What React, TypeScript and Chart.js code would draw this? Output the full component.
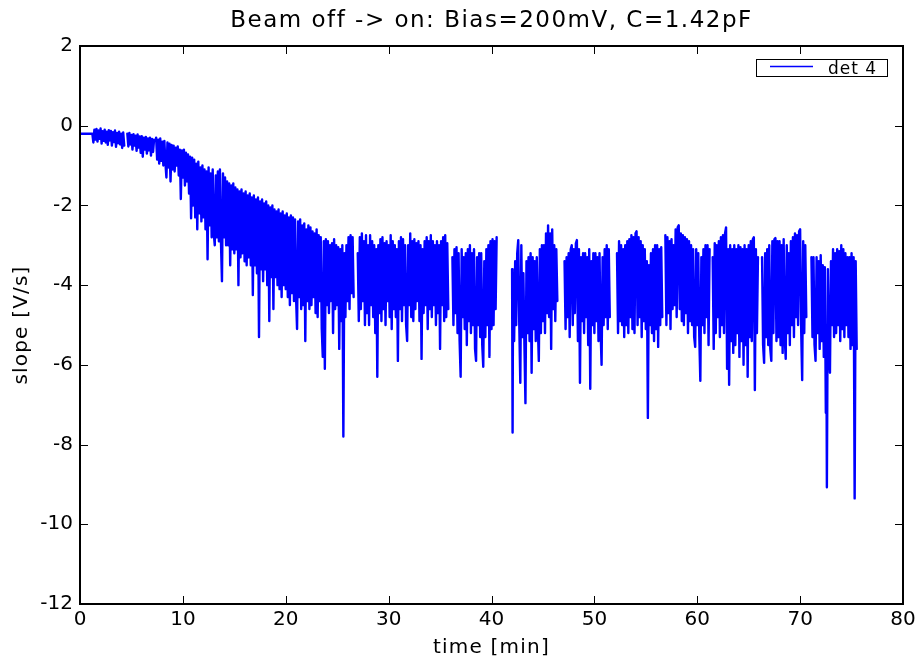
import { useEffect, useRef } from "react";
import { Chart, registerables } from "chart.js";

Chart.register(...registerables);

const chartTitle = "Beam off -> on: Bias=200mV, C=1.42pF";
const xLabel = "time [min]";
const yLabel = "slope [V/s]";
const seriesName = "det 4";
const xTicks = [0, 10, 20, 30, 40, 50, 60, 70, 80];
const yTicks = [-12, -10, -8, -6, -4, -2, 0, 2];

// acquisition runs: [time (min), slope (V/s)]
const run01 = [[0, -0.2], [1.2, -0.2], [1.3, -0.42], [1.4, -0.1], [1.5, -0.35], [1.6, -0.08], [1.7, -0.4], [1.8, -0.12], [1.9, -0.33], [2.0, -0.07], [2.1, -0.45], [2.2, -0.14], [2.3, -0.38], [2.4, -0.1], [2.5, -0.42], [2.6, -0.15], [2.7, -0.48], [2.8, -0.11], [2.9, -0.37], [3.0, -0.13], [3.1, -0.5], [3.2, -0.16], [3.3, -0.41], [3.4, -0.12], [3.5, -0.53], [3.6, -0.18], [3.7, -0.44], [3.8, -0.15], [3.9, -0.47], [4.0, -0.2], [4.1, -0.56], [4.2, -0.17], [4.3, -0.5]];
const run02 = [[4.6, -0.2], [4.7, -0.52], [4.8, -0.18], [4.9, -0.47], [5.0, -0.23], [5.1, -0.6], [5.2, -0.21], [5.3, -0.5], [5.4, -0.25], [5.5, -0.63], [5.6, -0.22], [5.7, -0.55], [5.8, -0.27], [5.9, -0.68], [6.0, -0.26], [6.1, -0.78], [6.2, -0.3], [6.3, -0.6], [6.4, -0.28], [6.5, -0.7], [6.6, -0.32], [6.7, -0.62], [6.8, -0.3], [6.9, -0.75], [7.0, -0.33], [7.1, -0.66], [7.2, -0.35]];
const run03 = [[7.4, -0.3], [7.5, -0.85], [7.6, -0.35], [7.7, -0.95], [7.8, -0.32], [7.9, -0.88], [8.0, -0.4], [8.1, -1.0], [8.2, -0.38], [8.3, -0.92], [8.4, -1.3], [8.5, -0.42], [8.6, -1.05], [8.7, -0.45], [8.8, -1.4], [8.9, -0.48], [9.0, -1.1], [9.1, -0.5], [9.2, -1.15], [9.3, -0.55], [9.4, -1.0], [9.5, -0.52], [9.6, -1.25], [9.7, -0.6], [9.8, -1.84], [9.9, -0.62], [10.0, -1.3], [10.1, -0.6], [10.2, -1.5], [10.3, -0.68], [10.4, -1.4], [10.5, -0.72], [10.6, -1.7], [10.7, -0.78], [10.8, -2.32], [10.9, -0.8], [11.0, -2.0], [11.1, -0.85], [11.2, -2.3], [11.3, -0.95], [11.4, -2.6], [11.5, -0.9], [11.6, -2.2], [11.7, -1.05], [11.8, -2.4], [11.9, -1.0], [12.0, -2.3], [12.1, -1.1], [12.2, -2.6], [12.3, -1.15], [12.4, -3.35], [12.5, -1.05], [12.6, -2.5], [12.7, -1.2], [12.8, -2.8], [12.9, -1.1], [13.0, -2.7], [13.1, -3.0], [13.2, -1.25], [13.3, -2.8], [13.4, -1.15], [13.5, -2.9], [13.6, -1.1], [13.7, -2.9], [13.8, -3.9], [13.9, -1.2], [14.0, -2.8], [14.1, -1.3], [14.2, -3.0], [14.3, -1.4], [14.4, -3.0], [14.5, -1.45], [14.6, -3.5], [14.7, -1.5], [14.8, -3.1], [14.9, -1.45], [15.0, -3.2], [15.1, -1.55], [15.2, -3.1], [15.3, -1.6], [15.4, -4.0], [15.5, -1.65], [15.6, -3.3], [15.7, -1.6], [15.8, -3.2], [15.9, -1.7], [16.0, -3.4], [16.1, -1.65], [16.2, -3.5], [16.3, -1.75], [16.4, -3.3], [16.5, -1.7], [16.6, -3.5], [16.7, -1.8], [16.8, -4.25], [16.9, -1.75], [17.0, -3.5], [17.1, -1.85], [17.2, -3.7], [17.3, -1.8], [17.4, -5.3], [17.5, -1.9], [17.6, -3.6], [17.7, -1.85], [17.8, -3.9], [17.9, -1.95], [18.0, -3.6], [18.1, -1.9], [18.2, -4.0], [18.3, -2.0], [18.4, -4.9], [18.5, -2.05], [18.6, -3.8], [18.7, -2.0], [18.8, -4.6], [18.9, -2.1], [19.0, -3.8], [19.1, -2.15], [19.2, -4.0], [19.3, -2.1], [19.4, -4.1], [19.5, -2.2], [19.6, -4.3], [19.7, -2.15], [19.8, -4.0], [19.9, -2.25], [20.0, -4.1], [20.1, -2.2], [20.2, -4.3], [20.3, -2.3], [20.4, -4.5], [20.5, -2.25], [20.6, -4.2], [20.7, -2.3], [20.8, -4.4], [20.9, -2.35], [21.0, -4.3], [21.1, -5.1], [21.2, -2.4], [21.3, -4.3], [21.4, -2.35], [21.5, -4.6], [21.6, -2.5], [21.7, -4.5], [21.8, -2.45], [21.9, -5.4], [22.0, -2.6], [22.1, -4.4], [22.2, -2.5], [22.3, -4.6], [22.4, -2.55], [22.5, -4.5], [22.6, -2.65], [22.7, -4.3], [22.8, -2.7], [22.9, -4.7], [23.0, -2.6], [23.1, -4.8], [23.2, -2.75], [23.3, -4.4], [23.4, -2.8], [23.5, -5.1], [23.6, -5.8], [23.7, -2.9], [23.8, -6.1], [23.9, -2.85], [24.0, -4.5], [24.1, -2.9], [24.2, -4.7], [24.3, -3.0], [24.4, -4.4], [24.5, -2.95], [24.6, -5.2], [24.7, -2.85], [24.8, -4.6], [24.9, -3.0], [25.0, -4.5], [25.1, -3.05], [25.2, -5.6], [25.3, -3.1], [25.4, -4.9], [25.5, -3.0], [25.6, -7.8], [25.7, -3.2], [25.8, -4.8], [25.9, -3.0], [26.0, -4.4], [26.1, -2.8], [26.2, -4.6], [26.3, -2.75], [26.4, -4.2], [26.5, -2.8], [26.6, -4.3]];
const run04 = [[27.0, -3.2], [27.1, -4.9], [27.2, -2.8], [27.3, -4.6], [27.4, -2.7], [27.5, -4.4], [27.6, -2.9], [27.7, -5.0], [27.8, -2.75], [27.9, -4.7], [28.0, -3.0], [28.1, -5.0], [28.2, -2.75], [28.3, -4.5], [28.4, -2.9], [28.5, -4.8], [28.6, -3.0], [28.7, -5.2], [28.8, -3.1], [28.9, -6.3], [29.0, -3.0], [29.1, -4.7], [29.2, -2.85], [29.3, -4.9], [29.4, -2.8], [29.5, -4.6], [29.6, -2.95], [29.7, -5.0], [29.8, -2.9], [29.9, -4.4], [30.0, -3.0], [30.1, -4.8], [30.2, -2.75], [30.3, -5.1], [30.4, -2.9], [30.5, -4.6], [30.6, -3.0], [30.7, -4.8], [30.8, -3.1], [30.9, -5.9], [31.0, -2.9], [31.1, -4.6], [31.2, -2.8], [31.3, -4.9], [31.4, -2.85], [31.5, -4.5], [31.6, -3.0], [31.7, -5.0], [31.8, -5.4], [31.9, -3.0], [32.0, -4.5], [32.1, -2.7], [32.2, -4.8], [32.3, -2.9], [32.4, -4.9], [32.5, -2.85], [32.6, -4.6], [32.7, -2.95], [32.8, -4.4], [32.9, -2.9], [33.0, -4.9], [33.1, -3.0], [33.2, -5.85], [33.3, -3.1], [33.4, -4.7], [33.5, -2.9], [33.6, -4.5], [33.7, -2.8], [33.8, -5.1], [33.9, -2.9], [34.0, -4.6], [34.1, -2.75], [34.2, -4.8], [34.3, -2.9], [34.4, -4.5], [34.5, -3.0], [34.6, -5.0], [34.7, -2.9], [34.8, -4.7], [34.9, -3.0], [35.0, -5.6], [35.1, -2.9], [35.2, -4.5], [35.3, -2.8], [35.4, -4.9], [35.5, -2.75], [35.6, -4.8], [35.7, -2.95], [35.8, -4.6]];
const run05 = [[36.2, -3.3], [36.3, -5.0], [36.4, -3.1], [36.5, -4.7], [36.6, -3.05], [36.7, -5.2], [36.8, -3.2], [36.9, -5.4], [37.0, -6.3], [37.1, -3.1], [37.2, -4.8], [37.3, -3.3], [37.4, -5.1], [37.5, -3.2], [37.6, -5.5], [37.7, -3.1], [37.8, -4.9], [37.9, -3.0], [38.0, -5.2], [38.1, -3.2], [38.2, -5.0], [38.3, -3.1], [38.4, -5.6], [38.5, -5.9], [38.6, -3.3], [38.7, -5.0], [38.8, -3.2], [38.9, -5.3], [39.0, -3.2], [39.1, -5.5], [39.2, -6.05], [39.3, -3.4], [39.4, -5.3], [39.5, -3.1], [39.6, -5.0], [39.7, -3.0], [39.8, -5.8], [39.9, -2.9], [40.0, -5.1], [40.1, -2.85], [40.2, -5.0], [40.3, -2.9], [40.4, -4.6], [40.5, -2.8]];
const run06 = [[42.0, -3.6], [42.05, -7.7], [42.1, -3.7], [42.2, -5.4], [42.3, -3.4], [42.4, -5.0], [42.5, -3.2], [42.6, -2.87], [42.7, -5.0], [42.8, -6.45], [42.9, -3.0], [43.0, -5.3], [43.1, -3.7], [43.2, -5.5], [43.3, -6.96], [43.4, -3.4], [43.5, -5.2], [43.6, -3.3], [43.7, -5.4], [43.8, -3.2], [43.9, -6.2], [44.0, -3.3], [44.1, -5.1], [44.2, -3.4], [44.3, -5.4], [44.4, -3.3], [44.5, -5.0], [44.6, -5.9], [44.7, -3.1], [44.8, -5.2], [44.9, -3.0], [45.0, -4.9], [45.1, -3.0], [45.2, -5.2], [45.3, -2.7], [45.4, -4.7], [45.5, -2.5], [45.6, -4.8], [45.7, -2.7], [45.8, -5.6], [45.9, -2.6], [46.0, -4.6], [46.1, -3.0], [46.2, -4.9], [46.3, -3.1], [46.4, -4.4]];
const run07 = [[47.1, -3.4], [47.2, -5.1], [47.3, -3.3], [47.4, -4.8], [47.5, -3.2], [47.6, -5.3], [47.7, -3.1], [47.8, -3.0], [47.9, -5.0], [48.0, -3.1], [48.1, -4.7], [48.2, -2.95], [48.3, -2.87], [48.4, -5.4], [48.5, -3.1], [48.6, -6.45], [48.7, -3.3], [48.8, -4.9], [48.9, -3.2], [49.0, -5.2], [49.1, -3.2], [49.2, -4.8], [49.3, -3.3], [49.4, -5.5], [49.5, -3.1], [49.6, -6.6], [49.7, -3.4], [49.8, -5.0], [49.9, -3.2], [50.0, -5.2], [50.1, -3.2], [50.2, -4.9], [50.3, -3.3], [50.4, -5.4], [50.5, -3.2], [50.6, -5.1], [50.7, -6.0], [50.8, -3.3], [50.9, -5.0], [51.0, -3.1], [51.1, -4.8], [51.2, -3.0], [51.3, -5.1], [51.4, -3.1], [51.5, -4.8]];
const run08 = [[52.2, -3.2], [52.3, -5.2], [52.4, -2.9], [52.5, -4.9], [52.6, -3.0], [52.7, -5.0], [52.8, -3.1], [52.9, -5.3], [53.0, -3.0], [53.1, -5.0], [53.2, -2.9], [53.3, -5.2], [53.4, -2.85], [53.5, -4.8], [53.6, -2.75], [53.7, -5.1], [53.8, -2.8], [53.9, -5.2], [54.0, -2.7], [54.1, -2.65], [54.2, -5.0], [54.3, -2.8], [54.4, -4.8], [54.5, -2.9], [54.6, -5.3], [54.7, -3.0], [54.8, -4.9], [54.9, -3.1], [55.0, -5.1], [55.1, -3.4], [55.2, -7.33], [55.3, -3.5], [55.4, -5.0], [55.5, -3.2], [55.6, -5.2], [55.7, -3.1], [55.8, -5.4], [55.9, -3.0], [56.0, -5.1], [56.1, -3.0], [56.2, -5.55], [56.3, -3.1], [56.4, -5.0], [56.5, -3.05], [56.6, -4.8]];
const run09 = [[56.9, -2.75], [57.0, -5.0], [57.1, -2.8], [57.2, -4.7], [57.3, -2.9], [57.4, -5.1], [57.5, -2.85], [57.6, -4.6], [57.7, -3.0], [57.8, -4.5], [57.9, -2.6], [58.0, -4.8], [58.1, -2.55], [58.2, -2.5], [58.3, -4.6], [58.4, -2.7], [58.5, -4.9], [58.6, -2.75], [58.7, -5.0], [58.8, -2.8], [58.9, -4.7], [59.0, -2.85], [59.1, -5.2], [59.2, -2.9], [59.3, -4.9], [59.4, -3.0], [59.5, -5.0], [59.6, -3.1], [59.7, -5.3], [59.8, -5.55], [59.9, -3.1], [60.0, -5.0], [60.1, -3.2], [60.2, -5.3], [60.3, -6.4], [60.4, -3.3], [60.5, -5.0], [60.6, -3.1], [60.7, -5.2], [60.8, -3.0], [60.9, -4.8], [61.0, -3.0], [61.1, -5.5], [61.2, -3.1]];
const run10 = [[61.5, -3.3], [61.6, -5.6], [61.7, -2.95], [61.8, -5.2], [61.9, -3.0], [62.0, -4.8], [62.1, -2.9], [62.2, -5.3], [62.3, -2.8], [62.4, -5.0], [62.5, -2.75], [62.6, -5.2], [62.7, -2.7], [62.8, -2.55], [62.9, -6.1], [63.0, -3.1], [63.1, -6.5], [63.2, -3.0], [63.3, -5.4], [63.4, -3.1], [63.5, -5.7], [63.6, -3.0], [63.7, -5.5], [63.8, -3.1], [63.9, -5.2], [64.0, -3.0], [64.1, -5.8], [64.2, -3.05], [64.3, -5.4], [64.4, -3.1], [64.5, -6.0], [64.6, -3.0], [64.7, -5.5], [64.8, -3.1], [64.9, -6.3], [65.0, -3.0], [65.1, -5.3], [65.2, -2.9], [65.3, -5.4], [65.4, -2.85], [65.5, -2.8], [65.6, -6.63], [65.7, -3.1], [65.8, -5.2], [65.9, -3.3]];
const run11 = [[66.3, -3.3], [66.4, -5.5], [66.5, -5.95], [66.6, -3.2], [66.7, -5.3], [66.8, -3.1], [66.9, -5.5], [67.0, -3.0], [67.1, -5.6], [67.2, -5.9], [67.3, -2.9], [67.4, -5.2], [67.5, -2.85], [67.6, -2.82], [67.7, -5.4], [67.8, -2.9], [67.9, -5.3], [68.0, -2.9], [68.1, -5.5], [68.2, -3.0], [68.3, -5.7], [68.4, -2.85], [68.5, -5.3], [68.6, -5.85], [68.7, -3.0], [68.8, -5.2], [68.9, -3.2], [69.0, -5.5], [69.1, -2.9], [69.2, -5.0], [69.3, -2.8], [69.4, -5.3], [69.5, -2.7], [69.6, -4.8], [69.7, -2.75], [69.8, -5.0], [69.9, -2.65], [70.0, -2.6], [70.1, -5.1], [70.2, -6.38], [70.3, -2.9], [70.4, -5.2], [70.5, -3.0], [70.6, -4.8]];
const run12 = [[71.1, -3.3], [71.2, -5.3], [71.3, -3.3], [71.4, -5.5], [71.5, -5.9], [71.6, -3.3], [71.7, -5.2], [71.8, -3.4], [71.9, -5.6], [72.0, -3.25], [72.1, -5.4], [72.2, -3.5], [72.3, -5.8], [72.4, -3.55], [72.5, -7.2], [72.55, -5.0], [72.6, -9.07], [72.7, -3.6], [72.8, -5.5], [72.9, -6.2], [73.0, -3.4], [73.1, -5.0], [73.2, -3.1], [73.3, -5.3], [73.4, -3.2], [73.5, -5.2], [73.6, -3.1], [73.7, -5.0], [73.8, -3.15], [73.9, -5.4], [74.0, -3.0], [74.1, -5.1], [74.2, -3.1], [74.3, -5.3], [74.4, -3.2], [74.5, -5.0], [74.6, -3.3], [74.7, -5.3], [74.8, -3.3], [74.9, -5.6], [75.0, -3.2], [75.1, -5.5], [75.2, -3.3], [75.3, -9.35], [75.4, -3.4], [75.5, -5.6]];

const runs = [run01, run02, run03, run04, run05, run06, run07, run08, run09, run10, run11, run12];

const FONT = "'DejaVu Sans', 'Liberation Sans', sans-serif";

function buildPoints() {
  const pts: { x: number; y: number | null }[] = [];
  runs.forEach((run, i) => {
    if (i > 0) pts.push({ x: run[0][0], y: null });
    run.forEach(([t, v]) => pts.push({ x: t, y: v }));
  });
  return pts;
}

const framePlugin = {
  id: "mplFrame",
  afterDatasetsDraw(chart: any) {
    const { ctx, chartArea: a, scales } = chart;
    const sx = scales.x;
    const sy = scales.y;
    ctx.save();
    ctx.strokeStyle = "#000";
    ctx.lineWidth = 1;
    const tl = 8;
    ctx.beginPath();
    sx.ticks.forEach((t: any) => {
      const px = Math.round(sx.getPixelForValue(t.value)) + 0.5;
      ctx.moveTo(px, a.bottom);
      ctx.lineTo(px, a.bottom - tl);
      ctx.moveTo(px, a.top);
      ctx.lineTo(px, a.top + tl);
    });
    sy.ticks.forEach((t: any) => {
      const py = Math.round(sy.getPixelForValue(t.value)) + 0.5;
      ctx.moveTo(a.left, py);
      ctx.lineTo(a.left + tl, py);
      ctx.moveTo(a.right, py);
      ctx.lineTo(a.right - tl, py);
    });
    ctx.stroke();
    ctx.lineWidth = 2;
    ctx.strokeRect(a.left, a.top, a.right - a.left, a.bottom - a.top);
    ctx.restore();
  },
  afterDraw(chart: any) {
    const { ctx, chartArea: a } = chart;
    const cx = (a.left + a.right) / 2;
    const cy = (a.top + a.bottom) / 2;
    ctx.save();
    ctx.fillStyle = "#000";
    // title
    ctx.font = `23px ${FONT}`;
    (ctx as any).letterSpacing = "1.5px";
    ctx.textAlign = "center";
    ctx.textBaseline = "alphabetic";
    ctx.fillText(chartTitle, cx, 27);
    // axis labels
    ctx.font = `20px ${FONT}`;
    (ctx as any).letterSpacing = "1.2px";
    ctx.textBaseline = "middle";
    ctx.fillText(xLabel, cx, 648);
    ctx.save();
    ctx.translate(22, cy);
    ctx.rotate(-Math.PI / 2);
    ctx.fillText(yLabel, 0, 0);
    ctx.restore();
    // legend
    const lx = a.right - 147;
    const ly = a.top + 13;
    ctx.lineWidth = 1;
    ctx.strokeStyle = "#000";
    ctx.fillStyle = "#fff";
    ctx.fillRect(lx + 0.5, ly + 0.5, 131, 17);
    ctx.strokeRect(lx + 0.5, ly + 0.5, 131, 17);
    ctx.strokeStyle = "#0000ff";
    ctx.lineWidth = 1.5;
    ctx.beginPath();
    ctx.moveTo(lx + 14, ly + 7.5);
    ctx.lineTo(lx + 57, ly + 7.5);
    ctx.stroke();
    ctx.fillStyle = "#000";
    ctx.font = `17px ${FONT}`;
    (ctx as any).letterSpacing = "1px";
    ctx.textAlign = "left";
    ctx.textBaseline = "alphabetic";
    ctx.fillText(seriesName, lx + 72, ly + 14.5);
    (ctx as any).letterSpacing = "0px";
    ctx.restore();
  },
};

export default function App() {
  const ref = useRef<HTMLCanvasElement | null>(null);
  useEffect(() => {
    if (!ref.current) return;
    const chart = new Chart(ref.current, {
      type: "line",
      data: {
        datasets: [
          {
            label: seriesName,
            data: buildPoints() as any,
            borderColor: "#0000ff",
            backgroundColor: "#0000ff",
            borderWidth: 2.4,
            borderJoinStyle: "round",
            borderCapStyle: "round",
            pointRadius: 0,
            tension: 0,
            spanGaps: false,
            fill: false,
          },
        ],
      },
      options: {
        animation: false,
        responsive: false,
        devicePixelRatio: 1,
        events: [],
        layout: { padding: { top: 46, right: 18, left: 0, bottom: 0 } },
        plugins: {
          legend: { display: false },
          title: { display: false },
          tooltip: { enabled: false },
        },
        scales: {
          x: {
            type: "linear",
            min: 0,
            max: 80,
            afterBuildTicks: (s: any) => {
              s.ticks = xTicks.map((v) => ({ value: v }));
            },
            afterFit: (s: any) => {
              s.height = 61;
            },
            ticks: {
              autoSkip: false,
              maxRotation: 0,
              padding: 4,
              color: "#000",
              font: { family: FONT, size: 20 },
              callback: (v: any) => String(v),
            },
            grid: { display: false, drawTicks: false },
            border: { display: false },
          },
          y: {
            type: "linear",
            min: -12,
            max: 2,
            afterBuildTicks: (s: any) => {
              s.ticks = yTicks.map((v) => ({ value: v }));
            },
            afterFit: (s: any) => {
              s.width = 80;
            },
            ticks: {
              autoSkip: false,
              padding: 7,
              color: "#000",
              font: { family: FONT, size: 20 },
              callback: (v: any) => String(v),
            },
            grid: { display: false, drawTicks: false },
            border: { display: false },
          },
        },
      },
      plugins: [framePlugin],
    });
    return () => chart.destroy();
  }, []);
  return (
    <div style={{ position: "absolute", left: 0, top: 0, width: 921, height: 665, background: "#fff" }}>
      <canvas ref={ref} width={921} height={665} style={{ width: 921, height: 665, display: "block" }} />
    </div>
  );
}
